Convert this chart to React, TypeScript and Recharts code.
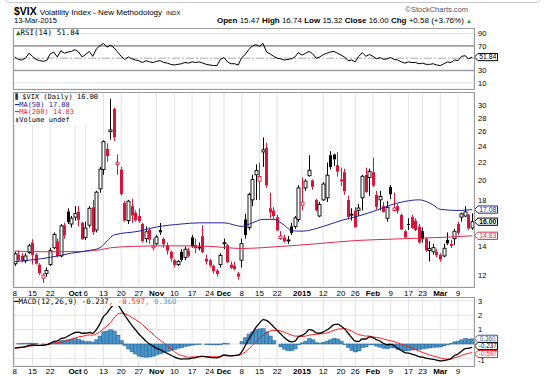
import React from 'react';
import { ComposedChart, Bar, Line, XAxis, YAxis, CartesianGrid, ReferenceLine } from 'recharts';

// ---------- data ----------
const open = [
  12.75, 13.4, 13.3, 12.95, 13.55, 14.3, 13.4, 12.7, 11.8, 12.1,
  12.7, 13.9, 14.4, 13.3, 15.7, 16.9, 15.8, 16.4, 16.9, 15.9,
  14.7, 15.7, 17.3, 15.3, 19.1, 21.2, 23.7, 26.0, 29.4, 21.8,
  21.2, 17.7, 16.1, 17.4, 16.8, 16.5, 15.8, 14.6, 15.3, 13.9,
  14.2, 15.3, 14.6, 14.1, 13.6, 13.0, 12.7, 13.6, 13.2, 13.7,
  14.7, 14.1, 13.9, 14.8, 13.1, 13.0, 12.6, 12.3, 12.7, 14.2,
  14.1, 12.7, 12.6, 12.1, 13.0, 16.2, 15.5, 18.0, 20.6, 19.9,
  23.3, 23.8, 17.2, 17.0, 16.4, 14.6, 14.7, 14.45, 15.6, 15.6,
  16.2, 17.5, 19.2, 20.5, 20.0, 18.0, 16.5, 18.0, 18.2, 22.9,
  23.0, 21.7, 20.1, 20.9, 18.0, 16.6, 17.0, 17.0, 18.2, 20.6,
  20.3, 20.9, 18.5, 18.0, 17.4, 16.3, 19.3, 17.0, 17.4, 16.6,
  15.2, 15.8, 16.4, 16.1, 15.6, 15.2, 14.6, 13.7, 13.6, 13.6,
  13.4, 13.3, 14.5, 14.2, 14.6, 15.8, 16.4, 16.5, 16.6, 15.47,
];
const high = [
  13.6, 13.7, 13.5, 13.5, 14.2, 14.55, 13.5, 12.8, 12.1, 12.5,
  13.9, 15.1, 14.6, 15.8, 15.9, 17.2, 16.5, 17.4, 17.4, 16.0,
  16.0, 17.4, 18.0, 18.9, 21.5, 24.8, 24.4, 31.06, 29.6, 23.0,
  21.5, 17.9, 18.0, 18.1, 17.0, 17.2, 15.9, 15.6, 15.5, 14.6,
  14.9, 15.9, 14.7, 14.3, 13.7, 13.1, 13.0, 13.8, 14.0, 13.9,
  14.9, 14.6, 14.3, 15.7, 13.4, 13.1, 12.7, 12.4, 13.5, 14.6,
  14.2, 12.9, 12.9, 12.2, 14.6, 16.7, 18.7, 20.6, 21.8, 22.0,
  25.2, 24.5, 18.7, 17.3, 16.6, 15.2, 14.9, 14.8, 15.9, 16.5,
  19.5, 20.3, 20.1, 22.9, 20.1, 18.1, 17.8, 19.8, 22.0, 23.4,
  23.1, 23.3, 21.4, 21.3, 18.4, 17.2, 17.3, 17.6, 20.6, 21.4,
  21.3, 22.6, 18.9, 18.9, 17.8, 17.9, 19.5, 18.7, 17.6, 16.7,
  15.3, 16.3, 16.6, 16.3, 15.8, 15.5, 14.7, 14.4, 14.2, 13.8,
  13.5, 14.2, 15.1, 14.5, 15.4, 16.0, 16.8, 17.4, 16.7, 16.74,
];
const low = [
  12.6, 12.9, 12.85, 12.8, 13.45, 12.7, 12.7, 12.0, 11.5, 11.9,
  12.6, 13.8, 13.2, 13.2, 14.6, 15.8, 15.5, 16.1, 15.6, 14.5,
  14.5, 15.5, 14.9, 15.1, 18.7, 20.6, 22.1, 24.9, 24.7, 20.6,
  18.4, 16.0, 15.8, 15.9, 16.0, 15.9, 14.3, 14.3, 14.2, 13.7,
  14.1, 14.9, 13.9, 13.4, 12.9, 12.5, 12.6, 12.9, 13.0, 13.2,
  13.9, 13.5, 13.7, 13.5, 12.7, 12.5, 12.1, 11.9, 12.5, 13.8,
  12.8, 12.4, 12.3, 11.7, 12.5, 14.6, 15.3, 17.4, 18.0, 18.0,
  21.5, 19.2, 16.3, 16.2, 15.2, 14.5, 14.3, 14.2, 14.9, 15.4,
  16.0, 17.0, 18.9, 20.4, 19.0, 16.9, 16.4, 17.9, 17.8, 21.2,
  21.6, 20.4, 19.4, 18.5, 16.2, 16.1, 15.5, 16.5, 17.0, 18.7,
  18.4, 19.3, 17.1, 17.0, 16.8, 16.0, 18.1, 16.9, 16.7, 15.3,
  14.6, 15.3, 15.4, 15.2, 14.2, 14.3, 13.6, 12.9, 13.4, 13.2,
  12.9, 13.2, 14.1, 13.9, 14.1, 14.9, 16.0, 16.4, 15.3, 15.32,
];
const close = [
  13.45, 13.0, 12.95, 13.3, 14.05, 13.35, 12.75, 12.1, 12.0, 12.3,
  13.69, 14.93, 13.27, 15.64, 14.85, 15.98, 16.31, 16.71, 16.16, 14.55,
  15.46, 17.2, 15.11, 18.76, 21.24, 24.64, 22.79, 26.25, 25.2, 21.99,
  18.57, 16.08, 17.87, 16.53, 16.11, 16.04, 14.39, 15.15, 14.52, 14.03,
  14.73, 15.1, 14.17, 13.67, 13.12, 12.67, 12.92, 13.02, 13.79, 13.31,
  13.99, 13.86, 13.96, 13.58, 12.9, 12.62, 12.25, 12.07, 13.33, 14.29,
  12.85, 12.47, 12.38, 11.89, 14.21, 14.89, 18.53, 20.08, 21.08, 20.42,
  23.57, 19.44, 16.81, 16.49, 15.25, 14.8, 14.37, 14.5, 15.06, 16.33,
  19.2, 17.79, 19.92, 21.12, 19.31, 17.01, 17.55, 19.6, 20.56, 21.48,
  22.39, 20.95, 19.89, 18.85, 16.4, 16.66, 15.52, 17.22, 20.44, 18.76,
  20.97, 19.43, 17.33, 18.33, 16.85, 17.29, 18.55, 17.23, 16.96, 15.34,
  14.69, 15.8, 15.45, 15.29, 14.3, 14.56, 13.69, 13.84, 13.91, 13.34,
  13.04, 13.86, 14.23, 14.04, 15.2, 15.06, 16.69, 16.87, 15.42, 16.0,
];

const tickIdx = [0, 5, 10, 17, 20, 25, 30, 35, 40, 45, 50, 55, 59, 64, 69, 74, 81, 87, 92, 96, 101, 106, 111, 115, 120, 125];
const tickText = ['8', '15', '22', 'Oct', '6', '13', '20', '27', 'Nov', '10', '17', '24', 'Dec', '8', '15', '22', '2015', '12', '20', '26', 'Feb', '9', '17', '23', 'Mar', '9'];

const ma50Idx = [0, 10, 16, 21, 24, 26, 28, 35, 40, 47, 52, 59, 64, 67, 70, 73, 76, 78, 81, 87, 92, 97, 101, 106, 110, 114, 116, 118, 120, 125, 129];
const ma50Val = [12.9, 13.2, 13.5, 13.7, 13.9, 14.4, 14.9, 15.2, 15.55, 15.8, 15.9, 15.9, 15.6, 15.9, 16.2, 16.2, 15.7, 15.25, 15.2, 15.6, 16.1, 16.5, 16.9, 17.5, 17.85, 18.0, 17.85, 17.5, 17.1, 17.0, 17.08];
const ma200Idx = [0, 10, 18, 24, 27, 33, 45, 55, 64, 75, 85, 96, 105, 115, 122, 129];
const ma200Val = [13.65, 13.6, 13.62, 13.75, 13.9, 14.0, 14.05, 14.0, 13.85, 14.0, 14.2, 14.45, 14.55, 14.65, 14.72, 14.83];

const rsi = [
  52, 48, 47, 50, 58, 53, 48, 46, 45, 46,
  57, 60, 52, 62, 58, 60, 61, 64, 60, 52,
  56, 61, 53, 65, 70, 74, 68, 71, 67, 60,
  53, 48, 52, 49, 47, 46, 43, 46, 44, 43,
  45, 46, 43, 42, 40, 39, 40, 41, 43, 42,
  44, 43, 44, 42, 40, 39, 38, 38, 48, 51,
  44, 41, 41, 39, 51, 56, 64, 70, 72, 69,
  74, 60, 57, 53, 50, 49, 47, 48, 49, 52,
  59, 55, 58, 61, 57, 50, 52, 56, 58, 60,
  61, 58, 55, 52, 46, 47, 44, 53, 59, 53,
  56, 53, 49, 51, 48, 49, 51, 48, 47, 44,
  42, 44, 43, 43, 41, 42, 40, 40, 41, 39,
  38, 41, 44, 43, 47, 46, 53, 54, 49, 51.84,
];
const macd = [
  -0.28, -0.25, -0.22, -0.18, -0.1, -0.07, -0.08, -0.1, -0.1, -0.05,
  0.05, 0.18, 0.22, 0.38, 0.42, 0.55, 0.68, 0.8, 0.83, 0.75,
  0.75, 0.8, 0.74, 1.0, 1.4, 1.9, 2.15, 2.5, 2.7, 2.7,
  2.4, 2.0, 1.65, 1.3, 1.0, 0.7, 0.45, 0.2, 0.0, -0.15,
  -0.3, -0.4, -0.52, -0.65, -0.78, -0.9, -1.0, -1.05, -1.03, -1.04,
  -0.98, -0.94, -0.88, -0.86, -0.9, -0.93, -0.95, -0.96, -0.88, -0.76,
  -0.8, -0.83, -0.8, -0.78, -0.55, -0.1, 0.35, 0.75, 1.15, 1.45,
  1.7, 1.65, 1.45, 1.2, 0.95, 0.7, 0.45, 0.25, 0.15, 0.2,
  0.5, 0.6, 0.75, 1.0, 0.95, 0.78, 0.75, 0.85, 0.97, 1.15,
  1.35, 1.38, 1.25, 1.05, 0.75, 0.45, 0.2, 0.18, 0.35, 0.35,
  0.5, 0.45, 0.3, 0.2, 0.05, -0.05, -0.02, -0.12, -0.3, -0.45,
  -0.6, -0.63, -0.7, -0.78, -0.88, -0.92, -0.98, -1.04, -1.07, -1.12,
  -1.18, -1.15, -1.1, -1.02, -0.8, -0.7, -0.5, -0.32, -0.3, -0.237,
];
const signal = [
  -0.28, -0.27, -0.25, -0.22, -0.16, -0.12, -0.11, -0.1, -0.08, -0.05,
  0, 0.06, 0.08, 0.14, 0.18, 0.25, 0.34, 0.42, 0.5, 0.53,
  0.59, 0.63, 0.62, 0.7, 0.85, 1.05, 1.25, 1.5, 1.8, 2.08,
  2.15, 2.1, 2.0, 1.85, 1.7, 1.55, 1.35, 1.12, 0.9, 0.7,
  0.45, 0.28, 0.08, -0.13, -0.33, -0.52, -0.7, -0.8, -0.85, -0.92,
  -0.9, -0.9, -0.86, -0.86, -0.87, -0.88, -0.89, -0.89, -0.85, -0.81,
  -0.82, -0.83, -0.8, -0.78, -0.72, -0.55, -0.35, -0.1, 0.15, 0.4,
  0.62, 0.8, 0.9, 0.95, 0.95, 0.9, 0.82, 0.72, 0.62, 0.55,
  0.55, 0.52, 0.55, 0.62, 0.65, 0.68, 0.7, 0.73, 0.77, 0.85,
  0.95, 1.03, 1.05, 1.08, 1.0, 0.9, 0.75, 0.66, 0.6, 0.55,
  0.55, 0.5, 0.45, 0.42, 0.35, 0.28, 0.23, 0.16, 0.08, -0.02,
  -0.12, -0.18, -0.28, -0.38, -0.5, -0.59, -0.68, -0.77, -0.84, -0.9,
  -0.98, -1.03, -1.05, -1.05, -0.95, -0.9, -0.8, -0.7, -0.65, -0.597,
];
const hist = [
  0, 0.02, 0.03, 0.04, 0.06, 0.05, 0.03, 0, -0.02, 0,
  0.05, 0.12, 0.14, 0.24, 0.24, 0.3, 0.34, 0.38, 0.33, 0.22,
  0.16, 0.17, 0.12, 0.3, 0.55, 0.85, 0.9, 1.0, 0.9, 0.62,
  0.25, -0.1, -0.35, -0.55, -0.7, -0.85, -0.9, -0.92, -0.9, -0.85,
  -0.75, -0.68, -0.6, -0.52, -0.45, -0.38, -0.3, -0.25, -0.18, -0.12,
  -0.08, -0.04, -0.02, 0, -0.03, -0.05, -0.06, -0.07, -0.03, 0.05,
  0.02, 0, 0, 0, 0.17, 0.45, 0.7, 0.85, 1.0, 1.05,
  1.08, 0.85, 0.55, 0.25, 0, -0.2, -0.37, -0.47, -0.47, -0.35,
  -0.05, 0.08, 0.2, 0.38, 0.3, 0.1, 0.05, 0.12, 0.2, 0.3,
  0.4, 0.35, 0.2, -0.03, -0.25, -0.45, -0.55, -0.48, -0.25, -0.2,
  -0.05, -0.05, -0.15, -0.22, -0.3, -0.33, -0.25, -0.28, -0.38, -0.43,
  -0.48, -0.45, -0.42, -0.4, -0.38, -0.33, -0.3, -0.27, -0.23, -0.22,
  -0.2, -0.12, -0.05, 0.03, 0.15, 0.2, 0.3, 0.38, 0.35, 0.36,
];

const priceTicks = [12, 14, 16, 18, 20, 22, 24, 26, 28, 30];
const rsiTicks = [10, 30, 70, 90];
const macdTicks = [-1, 0, 1, 2, 3];

// ---------- table for the library ----------
type Row = { [k: string]: any };
const rows: Row[] = close.map((c, i) => ({
  i,
  o: open[i],
  h: high[i],
  l: low[i],
  c,
  prev: i > 0 ? close[i - 1] : open[i],
  range: [low[i], high[i]],
  ma50: null,
  ma200: null,
  rsi: rsi[i],
  macd: macd[i],
  signal: signal[i],
  hist: hist[i],
}));
ma50Idx.forEach((d, k) => { rows[d].ma50 = ma50Val[k]; });
ma200Idx.forEach((d, k) => { rows[d].ma200 = ma200Val[k]; });

// ---------- styles ----------
const FONT = '"Liberation Sans", Arial, sans-serif';
const MONO = '"DejaVu Sans Mono", monospace';
const RED = '#d4163c';
const MA50C = '#23239a';
const MA200C = '#e2284a';
const GRID = '#e3e3e3';
const HISTC = '#4a94c8';

const XTick = (props: any) => {
  const { x, y, payload, off } = props;
  const k = tickIdx.indexOf(payload.value);
  const t = k >= 0 ? tickText[k] : '';
  const bold = /[A-Za-z]/.test(t) || t.length === 4;
  return (
    <text x={x} y={y + off} textAnchor="middle" fontSize={8} fontWeight={bold ? 700 : 400} fill="#000" fontFamily={FONT}>
      {t}
    </text>
  );
};

const MacdTick = (props: any) => {
  const { x, y, payload } = props;
  const v = payload.value;
  if (v === 0) return null;
  return (
    <text x={x} y={y + (v === -1 ? 4.5 : 2.7)} textAnchor="start" fontSize={7.5} fill="#000" fontFamily={FONT}>
      {String(v)}
    </text>
  );
};

const Candle = (props: any) => {
  const { x, y, width, height, payload } = props;
  if (x == null || y == null || !payload) return null;
  const { o, h, l, c, prev } = payload;
  const top0 = Math.min(y, y + height);
  const ht = Math.abs(height);
  const lh = Math.log(h);
  const span = lh - Math.log(l) || 1;
  const yOf = (v: number) => top0 + ((lh - Math.log(v)) / span) * ht;
  const cx = Math.floor(x + width / 2) + 0.5;
  const color = c < prev ? RED : '#000';
  const hollow = c > o;
  const bt = yOf(Math.max(o, c));
  const bb = yOf(Math.min(o, c));
  const bh = Math.max(bb - bt, 1);
  return (
    <g>
      <line x1={cx} x2={cx} y1={top0} y2={bt} stroke={color} strokeWidth={1} />
      <line x1={cx} x2={cx} y1={bt + bh} y2={top0 + ht} stroke={color} strokeWidth={1} />
      {hollow ? (
        <rect x={cx - 1.5} y={bt} width={3} height={bh} fill="#fff" stroke={color} strokeWidth={0.9} />
      ) : (
        <rect x={cx - 1.5} y={bt} width={3} height={bh} fill={color} />
      )}
    </g>
  );
};

const Tag = (props: any) => {
  const { viewBox, text, color, textColor, bold, shift, fs } = props;
  if (!viewBox) return null;
  const x0 = viewBox.x + viewBox.width + 0.5;
  const y0 = viewBox.y + (shift || 0);
  const w = 23;
  const hh = 3.6;
  const f = fs || 6.8;
  const d = `M${x0},${y0} L${x0 + 3.5},${y0 - hh} L${x0 + w},${y0 - hh} L${x0 + w},${y0 + hh} L${x0 + 3.5},${y0 + hh} Z`;
  return (
    <g>
      <path d={d} fill="#fff" stroke={color} strokeWidth={1} />
      <text x={x0 + 3.5 + (w - 3.5) / 2} y={y0 + f * 0.35} textAnchor="middle" fontSize={f} fontWeight={bold ? 700 : 400} fill={textColor || color} fontFamily={FONT}>
        {text}
      </text>
    </g>
  );
};

const LEFT = 13;
const PLOT_W = 461;
const YW = 40;
const RIGHT = 550 - LEFT - PLOT_W - YW;
const yTick = { fontSize: 7.5, fill: '#000', fontFamily: FONT };

const box = (top: number, height: number): React.CSSProperties => ({
  position: 'absolute', left: LEFT, top, width: PLOT_W + 1, height: height + 1, border: '1px solid #9a9a9a', boxSizing: 'border-box', pointerEvents: 'none',
});

export default function App() {
  return (
    <div style={{ position: 'absolute', left: 0, top: 0, width: 550, height: 376, background: '#fff', overflow: 'hidden', fontFamily: FONT, color: '#000' }}>
      <div style={{ position: 'absolute', left: 4, top: -9, width: 536, height: 10, border: '1px solid #c8c8c8', borderRadius: 6 }} />
      {/* header */}
      <div style={{ position: 'absolute', left: 14, top: 4, whiteSpace: 'nowrap', lineHeight: '12px' }}>
        <span style={{ fontSize: 10.5, fontWeight: 700 }}>$VIX</span>
        <span style={{ fontSize: 8, marginLeft: 3 }}>Volatility Index - New Methodology</span>
        <span style={{ fontSize: 6, marginLeft: 4 }}>INDX</span>
      </div>
      <div style={{ position: 'absolute', left: 14, top: 16, fontSize: 7.5, whiteSpace: 'nowrap' }}>13-Mar-2015</div>
      <div style={{ position: 'absolute', right: 82, top: 5, fontSize: 7.5, color: '#555', whiteSpace: 'nowrap' }}>©StockCharts.com</div>
      <div style={{ position: 'absolute', right: 78, top: 16, fontSize: 8, whiteSpace: 'nowrap' }}>
        <b>Open</b> 15.47 <b>High</b> 16.74 <b>Low</b> 15.32 <b>Close</b> 16.00 <b>Chg</b> +0.58 (+3.76%) <span style={{ color: '#1a9a1a', fontSize: 6 }}>▲</span>
      </div>

      {/* RSI panel */}
      <div style={{ position: 'absolute', left: 0, top: 28 }}>
        <ComposedChart width={550} height={61} data={rows} margin={{ top: 0, left: LEFT, right: RIGHT, bottom: 0 }}>
          <CartesianGrid stroke={GRID} />
          <XAxis dataKey="i" type="category" scale="band" ticks={tickIdx} interval={0} tick={false} tickLine={false} axisLine={false} height={0} />
          <YAxis orientation="right" domain={[0, 99]} ticks={rsiTicks} interval={0} tick={yTick} tickLine={false} axisLine={false} tickSize={0} tickMargin={4} width={YW} />
          <ReferenceLine y={70} stroke="#a0a0a0" strokeWidth={1.6} />
          <ReferenceLine y={30} stroke="#a0a0a0" strokeWidth={1.6} />
          <ReferenceLine y={50} stroke="#aaaaaa" strokeDasharray="8 2 2 2" />
          <Line dataKey="rsi" type="linear" stroke="#000" strokeWidth={1} dot={false} isAnimationActive={false} />
          <ReferenceLine y={51.84} stroke="none" label={<Tag text="51.84" color="#000" />} />
        </ComposedChart>
      </div>
      <div style={box(28, 61)} />
      <div style={{ position: 'absolute', left: 15, top: 29, fontSize: 7.5, fontFamily: MONO, whiteSpace: 'nowrap', background: '#fff', lineHeight: '8px', padding: '0 1px' }}>
        <span style={{ color: '#1f7a1f' }}>▲</span>RSI(14) 51.84
      </div>

      {/* price panel */}
      <div style={{ position: 'absolute', left: 0, top: 92 }}>
        <ComposedChart width={550} height={207} data={rows} margin={{ top: 0, left: LEFT, right: RIGHT, bottom: 0 }} barCategoryGap={0} barGap={0}>
          <CartesianGrid stroke={GRID} />
          <XAxis dataKey="i" type="category" scale="band" ticks={tickIdx} interval={0} tick={<XTick off={7} />} tickLine={false} axisLine={false} height={12} tickSize={0} />
          <YAxis yAxisId="p" orientation="right" scale="log" domain={[11.25, 32.2]} allowDataOverflow ticks={priceTicks} interval={0} tickFormatter={(v: number) => (v === 16 ? '' : String(v))} tick={yTick} tickLine={false} axisLine={false} tickSize={0} tickMargin={4} width={YW} />
          <Bar yAxisId="p" dataKey="range" shape={<Candle />} isAnimationActive={false} />
          <Line yAxisId="p" dataKey="ma200" type="monotone" stroke={MA200C} strokeWidth={1} dot={false} connectNulls isAnimationActive={false} />
          <Line yAxisId="p" dataKey="ma50" type="monotone" stroke={MA50C} strokeWidth={1} dot={false} connectNulls isAnimationActive={false} />
          <ReferenceLine yAxisId="p" y={14.83} stroke="none" label={<Tag text="14.83" color={MA200C} />} />
          <ReferenceLine yAxisId="p" y={17.08} stroke="none" label={<Tag text="17.08" color={MA50C} />} />
          <ReferenceLine yAxisId="p" y={16.0} stroke="none" label={<Tag text="16.00" color="#000" bold />} />
        </ComposedChart>
      </div>
      <div style={box(92, 195)} />
      <div style={{ position: 'absolute', left: 14, top: 94, fontSize: 7, fontFamily: MONO, whiteSpace: 'nowrap', background: '#fff', lineHeight: '7.5px', padding: '0 2px 1px 1px' }}>
        <div><span style={{ fontWeight: 700 }}>⫼</span> $VIX (Daily) 16.00</div>
        <div style={{ color: MA50C }}>━MA(50) 17.08</div>
        <div style={{ color: MA200C }}>━MA(200) 14.83</div>
        <div><span style={{ color: '#666' }}>▮</span>Volume undef</div>
      </div>

      {/* MACD panel */}
      <div style={{ position: 'absolute', left: 0, top: 297 }}>
        <ComposedChart width={550} height={79} data={rows} margin={{ top: 0, left: LEFT, right: RIGHT, bottom: 0 }} barCategoryGap={0} barGap={0}>
          <CartesianGrid stroke={GRID} />
          <XAxis dataKey="i" type="category" scale="band" ticks={tickIdx} interval={0} tick={<XTick off={6} />} tickLine={false} axisLine={false} height={10} tickSize={0} />
          <YAxis orientation="right" domain={[-1.53, 3.27]} allowDataOverflow ticks={macdTicks} interval={0} tick={<MacdTick />} tickLine={false} axisLine={false} tickSize={0} tickMargin={4} width={YW} />
          <Bar dataKey="hist" fill={HISTC} stroke="#1f5e8e" strokeWidth={0.5} isAnimationActive={false} />
          <Line dataKey="signal" type="monotone" stroke="#ff1a1a" strokeWidth={1} dot={false} isAnimationActive={false} />
          <Line dataKey="macd" type="monotone" stroke="#000" strokeWidth={1.3} dot={false} isAnimationActive={false} />
          <ReferenceLine y={0.36} stroke="none" label={<Tag text="0.360" color="#2c5f9a" fs={6.3} />} />
          <ReferenceLine y={-0.597} stroke="none" label={<Tag text="-0.597" color="#ff1a1a" fs={6.3} shift={1.4} />} />
          <ReferenceLine y={-0.237} stroke="none" label={<Tag text="-0.237" color="#000" fs={6.3} shift={-1.4} />} />
        </ComposedChart>
      </div>
      <div style={box(297, 69)} />
      <div style={{ position: 'absolute', left: 14, top: 298, fontSize: 7.5, fontFamily: MONO, whiteSpace: 'nowrap', lineHeight: '8px', background: '#fff' }}>
        <span>━MACD(12,26,9) -0.237</span>
        <span style={{ color: '#ff1a1a' }}>, -0.597</span>
        <span style={{ color: HISTC }}>, 0.360</span>
      </div>
    </div>
  );
}
